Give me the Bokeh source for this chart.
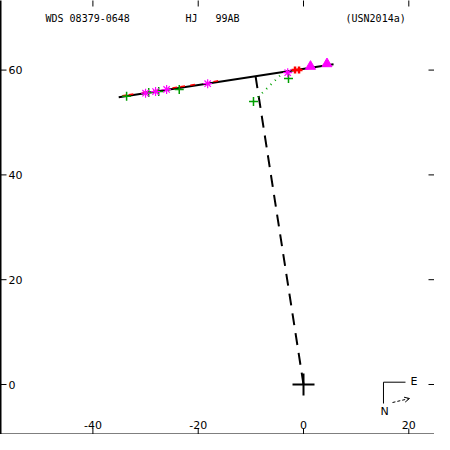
import math
from bokeh.plotting import figure
from bokeh.models import Range1d, LinearAxis, FixedTicker, Label, Arrow, OpenHead
from bokeh.core.properties import value
from bokeh.embed import file_html
from bokeh.resources import INLINE

# ---- data ----
xticks = [-40, -20, 0, 20]
xlabels = ["-40", "-20", "0", "20"]
yticks = [0, 20, 40, 60]
ylabels = ["0", "20", "40", "60"]

# orbit (nearly straight arc)
orbit_x = [-35.1, 5.7]
orbit_y = [54.8, 61.1]
# line to periastron (dashed)
node_x = [0.0, -9.1]
node_y = [0.0, 58.8]

# observations
green_x = [-33.6, -29.4, -27.5, -23.6, -9.5, -2.85]
green_y = [55.0, 55.7, 55.9, 56.3, 54.0, 58.4]
magenta_x = [-30.0, -28.1, -26.0, -18.2, -3.0]
magenta_y = [55.6, 55.9, 56.3, 57.4, 59.5]
red_x = [-1.61, -0.85]
red_y = [60.02, 60.02]
tri_x = [1.33, 4.46]
tri_y = [60.7, 61.2]

# O-C lines
oc_green_x0 = [-9.5]
oc_green_y0 = [54.0]
oc_green_x1 = [-3.8]
oc_green_y1 = [59.6]
oc_red_x0 = [-34.4, -33.2, -30.6, -28.5, -24.9, -23.4, -21.5, -17.1]
oc_red_y0 = [55.1, 55.3, 55.7, 56.0, 56.6, 56.8, 57.1, 57.8]
oc_red_x1 = [-33.5, -32.3, -29.7, -27.6, -24.0, -22.5, -20.6, -16.2]
oc_red_y1 = [55.25, 55.45, 55.85, 56.15, 56.75, 56.95, 57.25, 57.95]

x_lo, x_hi = -57.55, 24.88
y_lo, y_hi = -9.54, 73.28

p = figure(width=434, height=434, x_range=Range1d(x_lo, x_hi), y_range=Range1d(y_lo, y_hi),
           output_backend="svg", toolbar_location=None, x_axis_type=None, y_axis_type=None,
           min_border=0, outline_line_color=None, background_fill_color="white")

# axis lines only (left and bottom)
for loc in ("below", "left"):
    ax = LinearAxis(ticker=FixedTicker(ticks=[], minor_ticks=[]),
                    major_tick_in=0, major_tick_out=0, minor_tick_in=0, minor_tick_out=0,
                    major_label_standoff=0, axis_line_width=2, axis_line_color="black")
    p.add_layout(ax, loc)

# inward tick marks on all four sides (half of each dash is clipped by the frame)
p.scatter(xticks, [y_lo] * len(xticks), marker="dash", size=12, angle=math.pi / 2,
          line_color="black", line_width=1)
p.scatter(xticks, [y_hi] * len(xticks), marker="dash", size=12, angle=math.pi / 2,
          line_color="black", line_width=1)
p.scatter([x_lo] * len(yticks), yticks, marker="dash", size=12, line_color="black", line_width=1)
p.scatter([x_hi] * len(yticks), yticks, marker="dash", size=12, line_color="black", line_width=1)

# tick labels inside the frame
p.text(x=xticks, y=[y_lo] * len(xticks), text=xlabels, text_font=value("DejaVu Sans"),
       text_font_size="11px", text_align="center", text_baseline="alphabetic",
       y_offset=-10, text_color="black")
p.text(x=[x_lo] * len(yticks), y=yticks, text=ylabels, text_font=value("DejaVu Sans"),
       text_font_size="11px", text_align="left", text_baseline="middle",
       x_offset=8, text_color="black")

# titles
for txt, tx in [("WDS 08379-0648", -49.0), ("HJ", -22.41), ("99AB", -16.71), ("(USN2014a)", 7.98)]:
    p.add_layout(Label(x=tx, y=69.75, text=txt, text_font="DejaVu Sans Mono", text_font_size="10px",
                       text_align="left", text_baseline="middle", text_color="black"))

# orbit and periastron line
p.line(orbit_x, orbit_y, line_color="black", line_width=2)
p.line(node_x, node_y, line_color="black", line_width=2, line_dash="12 8")

# O-C lines
p.segment(oc_red_x0, oc_red_y0, oc_red_x1, oc_red_y1, line_color="red", line_width=1.5)
p.segment(oc_green_x0, oc_green_y0, oc_green_x1, oc_green_y1, line_color="#00a000",
          line_width=2, line_dash="1 5")

# observations
p.scatter(green_x, green_y, marker="cross", size=9, line_width=1.5, line_color="#00a000")
p.scatter(magenta_x, magenta_y, marker="asterisk", size=9, line_width=1.2, line_color="#ff00ff")
p.scatter(red_x, red_y, marker="cross", size=7, line_width=2.5, line_color="red")
p.scatter(tri_x, tri_y, marker="triangle", size=10, line_color="#ff00ff", fill_color="#ff00ff")

# primary
p.scatter([0], [0], marker="cross", size=22, line_width=2, line_color="black")

# compass
p.segment([15.19, 15.19], [0.44, 0.44], [19.37, 15.19], [0.44, -3.63], line_color="black", line_width=1)
p.add_layout(Label(x=20.32, y=0.57, text="E", text_font="DejaVu Sans", text_font_size="11px",
                   text_align="left", text_baseline="middle", text_color="black"))
p.add_layout(Label(x=14.63, y=-5.15, text="N", text_font="DejaVu Sans", text_font_size="11px",
                   text_align="left", text_baseline="middle", text_color="black"))
p.add_layout(Arrow(x_start=16.9, y_start=-3.44, x_end=20.13, y_end=-2.67,
                   line_color="black", line_width=1, line_dash="3 2",
                   end=OpenHead(size=5, line_color="black", line_width=1)))

open("out.html", "w").write(file_html(p, INLINE))
